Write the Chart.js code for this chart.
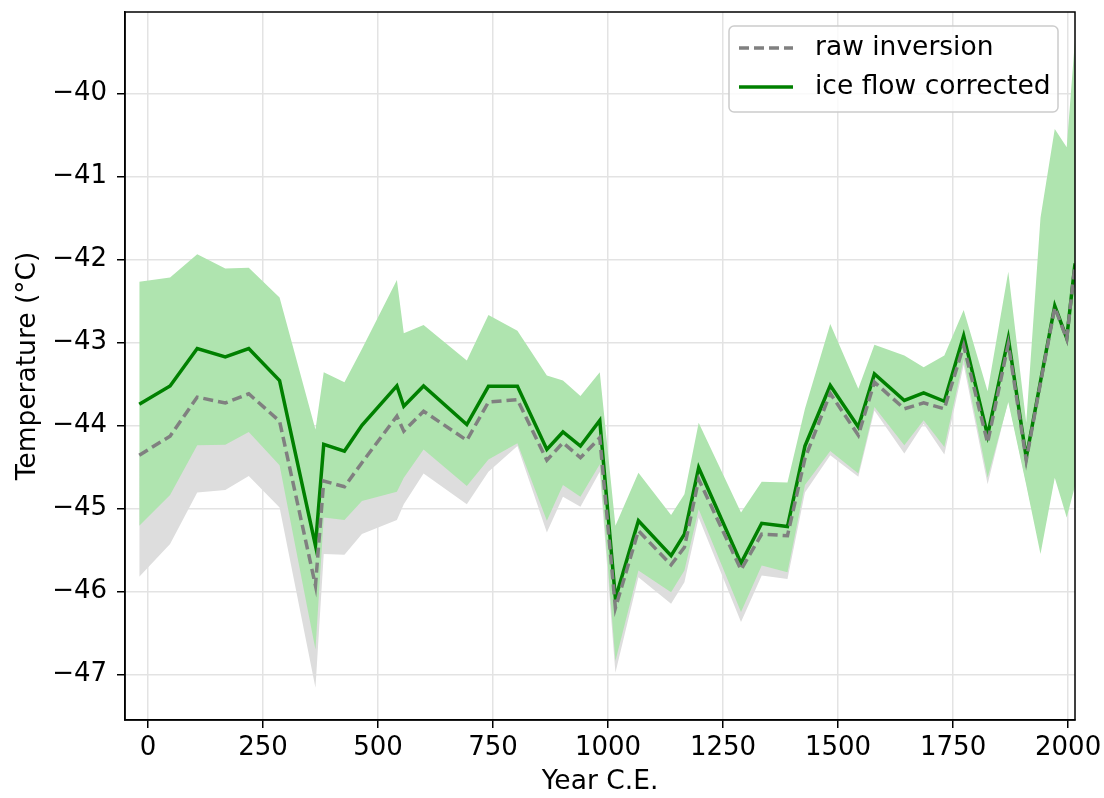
<!DOCTYPE html>
<html lang="en">
<head>
    <meta charset="UTF-8">
    <title>Temperature reconstruction</title>
    <script src="https://cdn.jsdelivr.net/npm/chart.js"></script>
    <style>
        body { margin: 0; background: #fff; }
        canvas { display: block; }
    </style>
</head>
<body>
    <canvas id="tempChart" width="1104" height="798"></canvas>

    <script>
        // years (C.E.) of the reconstruction nodes
        const years = [-19, 48, 107, 168, 219, 286, 364, 382, 427, 465,
            541, 556, 599, 693, 740, 803, 867, 902, 940, 982,
            1016, 1066, 1137, 1166, 1197, 1289, 1334, 1390, 1428, 1483,
            1544, 1579, 1644, 1686, 1731, 1773, 1825, 1870, 1909, 1940,
            1971, 1997, 2015];

        const rawInversion = [-44.36, -44.13, -43.66, -43.73, -43.62, -43.95, -45.93, -44.67, -44.74, -44.45,
            -43.89, -44.07, -43.83, -44.18, -43.72, -43.69, -44.42, -44.21, -44.39, -44.15,
            -46.20, -45.27, -45.68, -45.47, -44.65, -45.74, -45.31, -45.33, -44.40, -43.615,
            -44.12, -43.48, -43.80, -43.73, -43.80, -43.04, -44.21, -43.02, -44.42, -43.49,
            -42.58, -42.96, -42.06];
        const rawLower = [-45.825, -45.43, -44.81, -44.78, -44.61, -44.99, -47.16, -45.55, -45.56, -45.31,
            -45.14, -44.95, -44.58, -44.95, -44.56, -44.25, -45.29, -44.86, -44.98, -44.56,
            -46.98, -45.83, -46.15, -45.89, -45.11, -46.37, -45.81, -45.85, -44.81, -44.36,
            -44.62, -43.82, -44.34, -43.98, -44.35, -43.27, -44.71, -43.70, -44.70, -45.50,
            -44.60, -45.05, -44.70];

        const corrected = [-43.745, -43.525, -43.075, -43.175, -43.075, -43.46, -45.45, -44.23, -44.31, -44.00,
            -43.525, -43.77, -43.525, -43.99, -43.53, -43.53, -44.29, -44.08, -44.25, -43.94,
            -46.085, -45.15, -45.57, -45.31, -44.51, -45.66, -45.18, -45.22, -44.25, -43.52,
            -44.02, -43.38, -43.70, -43.61, -43.71, -42.92, -44.12, -42.95, -44.39, -43.47,
            -42.56, -42.95, -42.05];
        const correctedUpper = [-42.27, -42.22, -41.94, -42.11, -42.10, -42.46, -44.05, -43.36, -43.48, -43.08,
            -42.25, -42.89, -42.79, -43.22, -42.67, -42.86, -43.40, -43.46, -43.645, -43.36,
            -45.21, -44.57, -45.08, -44.83, -43.97, -45.05, -44.68, -44.69, -43.80, -42.78,
            -43.56, -43.03, -43.16, -43.30, -43.16, -42.61, -43.59, -42.15, -43.97, -41.50,
            -40.43, -40.65, -39.35];
        const correctedLower = [-45.21, -44.84, -44.24, -44.235, -44.08, -44.48, -46.70, -45.11, -45.14, -44.91,
            -44.80, -44.63, -44.29, -44.73, -44.41, -44.215, -45.15, -44.72, -44.86, -44.47,
            -46.84, -45.75, -46.01, -45.75, -45.01, -46.25, -45.69, -45.77, -44.72, -44.31,
            -44.58, -43.78, -44.24, -43.94, -44.26, -43.20, -44.63, -43.72, -44.72, -45.55,
            -44.63, -45.11, -44.73];

        const xTicks = [0, 250, 500, 750, 1000, 1250, 1500, 1750, 2000];
        const yTicks = [-47, -46, -45, -44, -43, -42, -41, -40];

        const legendItems = [
            { label: 'raw inversion', color: '#808080', dash: [10, 5] },
            { label: 'ice flow corrected', color: '#008000', dash: [] }
        ];

        const FONT = '"DejaVu Sans", sans-serif';
        const toPoints = vals => vals.map((v, i) => ({ x: years[i], y: v }));

        // cadre noir autour de la zone de tracé + légende dans le coin
        const framePlugin = {
            id: 'frameAndLegend',
            afterDraw(chart) {
                const ctx = chart.ctx;
                const a = chart.chartArea;
                ctx.save();
                ctx.strokeStyle = '#000';
                ctx.lineWidth = 1.5;
                ctx.strokeRect(a.left, a.top, a.right - a.left, a.bottom - a.top);

                const w = 329, h = 86;
                const x0 = a.right - 346, y0 = a.top + 14;
                ctx.beginPath();
                ctx.roundRect(x0, y0, w, h, 5);
                ctx.fillStyle = 'rgba(255,255,255,0.8)';
                ctx.fill();
                ctx.strokeStyle = '#cccccc';
                ctx.lineWidth = 1.5;
                ctx.stroke();

                ctx.font = '26.5px ' + FONT;
                ctx.textBaseline = 'middle';
                ctx.fillStyle = '#000';
                legendItems.forEach((item, i) => {
                    const y = y0 + 22 + i * 39;
                    ctx.beginPath();
                    ctx.setLineDash(item.dash);
                    ctx.strokeStyle = item.color;
                    ctx.lineWidth = 3.5;
                    ctx.moveTo(x0 + 10, y);
                    ctx.lineTo(x0 + 64, y);
                    ctx.stroke();
                    ctx.setLineDash([]);
                    ctx.fillText(item.label, x0 + 86, y);
                });
                ctx.restore();
            }
        };

        const ctx = document.getElementById('tempChart').getContext('2d');
        const chart = new Chart(ctx, {
            type: 'line',
            data: {
                datasets: [
                    {
                        label: 'raw inversion',
                        data: toPoints(rawInversion),
                        borderColor: '#808080',
                        borderWidth: 3.5,
                        borderDash: [10, 5],
                        fill: false
                    },
                    {
                        label: 'ice flow corrected',
                        data: toPoints(corrected),
                        borderColor: '#008000',
                        borderWidth: 3.5,
                        fill: false
                    },
                    {
                        label: 'corrected upper',
                        data: toPoints(correctedUpper),
                        borderWidth: 0,
                        borderColor: 'rgba(0,0,0,0)',
                        backgroundColor: '#afe4af',
                        fill: '+1'
                    },
                    {
                        label: 'corrected lower',
                        data: toPoints(correctedLower),
                        borderWidth: 0,
                        borderColor: 'rgba(0,0,0,0)',
                        fill: false
                    },
                    {
                        label: 'raw lower',
                        data: toPoints(rawLower),
                        borderWidth: 0,
                        borderColor: 'rgba(0,0,0,0)',
                        backgroundColor: '#dddddd',
                        fill: 0
                    }
                ]
            },
            options: {
                responsive: false,
                animation: false,
                layout: { padding: { left: 0, right: 29, top: 12, bottom: 0 } },
                elements: {
                    point: { radius: 0, hoverRadius: 0 },
                    line: { tension: 0 }
                },
                plugins: {
                    legend: { display: false },
                    tooltip: { enabled: false }
                },
                scales: {
                    x: {
                        type: 'linear',
                        min: -50,
                        max: 2015,
                        afterBuildTicks: scale => { scale.ticks = xTicks.map(v => ({ value: v })); },
                        afterFit: scale => {
                            scale.height = 78;
                            scale.paddingLeft = 0;
                            scale.paddingRight = 0;
                        },
                        grid: { color: '#e3e3e3', lineWidth: 1.5, tickColor: '#000', tickLength: 8 },
                        border: { color: '#000', width: 1.5 },
                        ticks: {
                            color: '#000',
                            font: { family: FONT, size: 26 },
                            padding: 5,
                            maxRotation: 0,
                            autoSkip: false,
                            callback: v => String(v)
                        },
                        title: {
                            display: true,
                            text: 'Year C.E.',
                            color: '#000',
                            font: { family: FONT, size: 26.5 },
                            padding: { top: 0, bottom: 0 }
                        }
                    },
                    y: {
                        min: -47.55,
                        max: -39.02,
                        afterBuildTicks: scale => { scale.ticks = yTicks.map(v => ({ value: v })); },
                        afterFit: scale => {
                            scale.width = 125;
                            scale.paddingTop = 0;
                            scale.paddingBottom = 0;
                        },
                        grid: { color: '#e3e3e3', lineWidth: 1.5, tickColor: '#000', tickLength: 8 },
                        border: { color: '#000', width: 1.5 },
                        ticks: {
                            color: '#000',
                            font: { family: FONT, size: 26 },
                            padding: 10,
                            callback: v => (v < 0 ? '\u2212' + Math.abs(v) : String(v))
                        },
                        title: {
                            display: true,
                            text: 'Temperature (°C)',
                            color: '#000',
                            font: { family: FONT, size: 26.5 },
                            padding: { top: 12, bottom: 0 }
                        }
                    }
                }
            },
            plugins: [framePlugin]
        });
    </script>
</body>
</html>
